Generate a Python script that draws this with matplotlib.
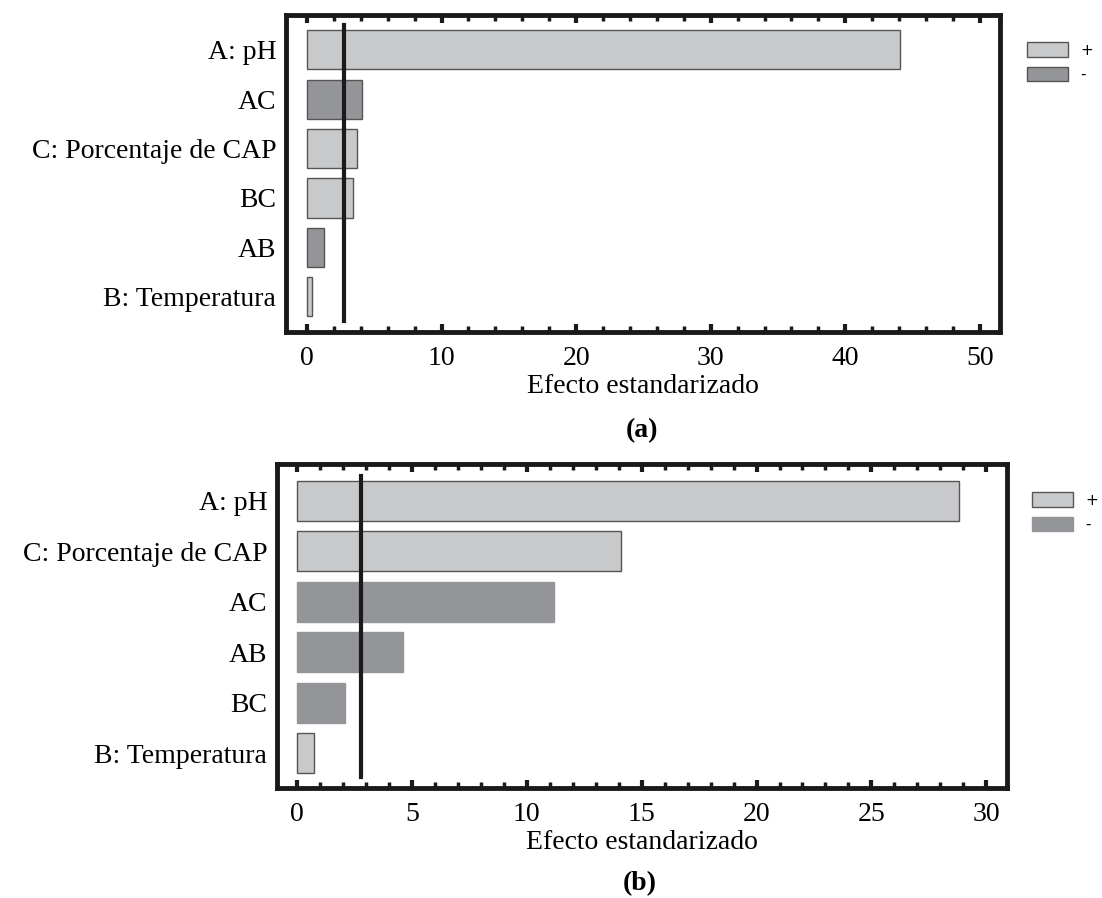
import numpy as np
import matplotlib.pyplot as plt
from matplotlib.patches import Patch
from matplotlib.ticker import MultipleLocator

# panel (a)
labels_a = ["A: pH", "AC", "C: Porcentaje de CAP", "BC", "AB", "B: Temperatura"]
effects_a = [44.1, 4.1, 3.7, 3.4, 1.3, 0.35]
signs_a = ["+", "-", "+", "+", "-", "+"]

# panel (b)
labels_b = ["A: pH", "C: Porcentaje de CAP", "AC", "AB", "BC", "B: Temperatura"]
effects_b = [28.8, 14.1, 11.2, 4.6, 2.1, 0.75]
signs_b = ["+", "+", "-", "-", "-", "+"]

crit = 2.78  # reference line (t critical)

light = "#c8c9cb"
dark = "#939598"
serif = "Liberation Serif"
fs = 20

W, H = 1102, 898
fig = plt.figure(figsize=(W / 100, H / 100), dpi=100)


def px_axes(l, t, r, b):
    return fig.add_axes([l / W, 1 - b / H, (r - l) / W, (b - t) / H])


def pareto(ax, labels, vals, signs, xlim, ylim, major, minor, dark_edge):
    y = np.arange(len(labels))
    cols = [light if s == "+" else dark for s in signs]
    edges = ["#555555" if (s == "+" or dark_edge) else dark for s in signs]
    ax.barh(y, vals, height=0.79, color=cols, edgecolor=edges, linewidth=1.0)
    ax.plot([crit, crit], [-0.5, 5.48], color="#1a1a1a", lw=3)
    ax.set_xlim(*xlim)
    ax.set_ylim(*ylim)
    ax.set_yticks(y)
    ax.set_yticklabels(labels, fontsize=fs, family=serif)
    ax.tick_params(axis="y", length=0, pad=7)
    ax.xaxis.set_major_locator(MultipleLocator(major))
    ax.xaxis.set_minor_locator(MultipleLocator(minor))
    ax.tick_params(axis="x", which="both", direction="in", top=True, bottom=True,
                   color="#1a1a1a", labelsize=fs, pad=10)
    ax.tick_params(axis="x", which="major", length=6, width=3)
    ax.tick_params(axis="x", which="minor", length=4, width=2.5)
    for lab in ax.get_xticklabels():
        lab.set_family(serif)
    for sp in ax.spines.values():
        sp.set_linewidth(3.5)
        sp.set_color("#1a1a1a")
    ax.set_xlabel("Efecto estandarizado", fontsize=fs, family=serif, labelpad=2)


ax1 = px_axes(286, 15, 1000, 332)
pareto(ax1, labels_a, effects_a, signs_a, (-1.56, 51.5), (5.71, -0.70), 10, 2, True)

ax2 = px_axes(277, 464, 1007, 788)
pareto(ax2, labels_b, effects_b, signs_b, (-0.87, 30.9), (5.69, -0.73), 5, 1, False)

h_a = [Patch(facecolor=light, edgecolor="#555555", lw=1.0, label="+"),
       Patch(facecolor=dark, edgecolor="#555555", lw=1.0, label="-")]
h_b = [Patch(facecolor=light, edgecolor="#555555", lw=1.0, label="+"),
       Patch(facecolor=dark, edgecolor=dark, lw=1.0, label="-")]
for hs, left, top in [(h_a, 1027, 42), (h_b, 1032, 492)]:
    fig.legend(handles=hs, loc="upper left", bbox_to_anchor=(left / W, 1 - top / H),
               frameon=False, fontsize=11, handlelength=2.7, handleheight=1.1,
               labelspacing=0.6, handletextpad=0.8, borderaxespad=0, borderpad=0)

fig.text(642 / W, 1 - 431 / H, "(a)", ha="center", va="center", fontsize=fs,
         fontweight="bold", family=serif)
fig.text(640 / W, 1 - 884 / H, "(b)", ha="center", va="center", fontsize=fs,
         fontweight="bold", family=serif)

fig.savefig("out.png", dpi=100)
